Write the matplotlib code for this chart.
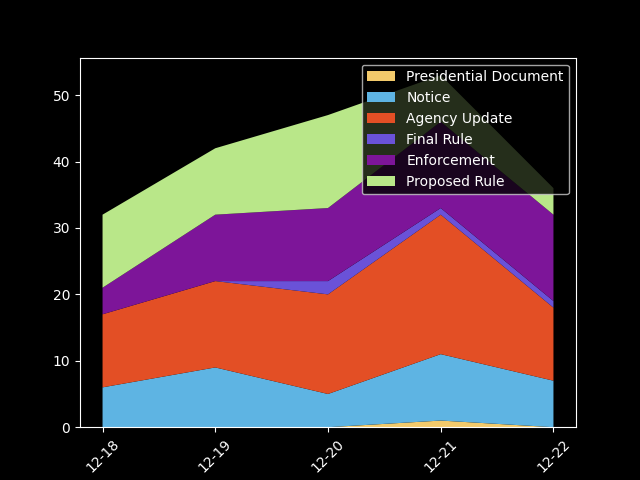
import matplotlib
matplotlib.use("Agg")
import matplotlib.pyplot as plt

plt.style.use("dark_background")

dates = ["12-18", "12-19", "12-20", "12-21", "12-22"]
presidential = [0, 0, 0, 1, 0]
notice = [6, 9, 5, 10, 7]
agency_update = [11, 13, 15, 21, 11]
final_rule = [0, 0, 2, 1, 1]
enforcement = [4, 10, 11, 13, 13]
proposed_rule = [11, 10, 14, 7, 4]

labels = ["Presidential Document", "Notice", "Agency Update", "Final Rule",
          "Enforcement", "Proposed Rule"]
colors = ["#f3ca6b", "#5eb4e3", "#e34f25", "#6a52d8", "#7d1599", "#b9e789"]

fig, ax = plt.subplots(figsize=(6.4, 4.8), dpi=100)
x = list(range(len(dates)))
ax.stackplot(x, presidential, notice, agency_update, final_rule, enforcement,
             proposed_rule, labels=labels, colors=colors)
ax.set_xticks(x)
ax.set_xticklabels(dates, rotation=45)
ax.legend(loc="upper right")
fig.savefig("out.png")
